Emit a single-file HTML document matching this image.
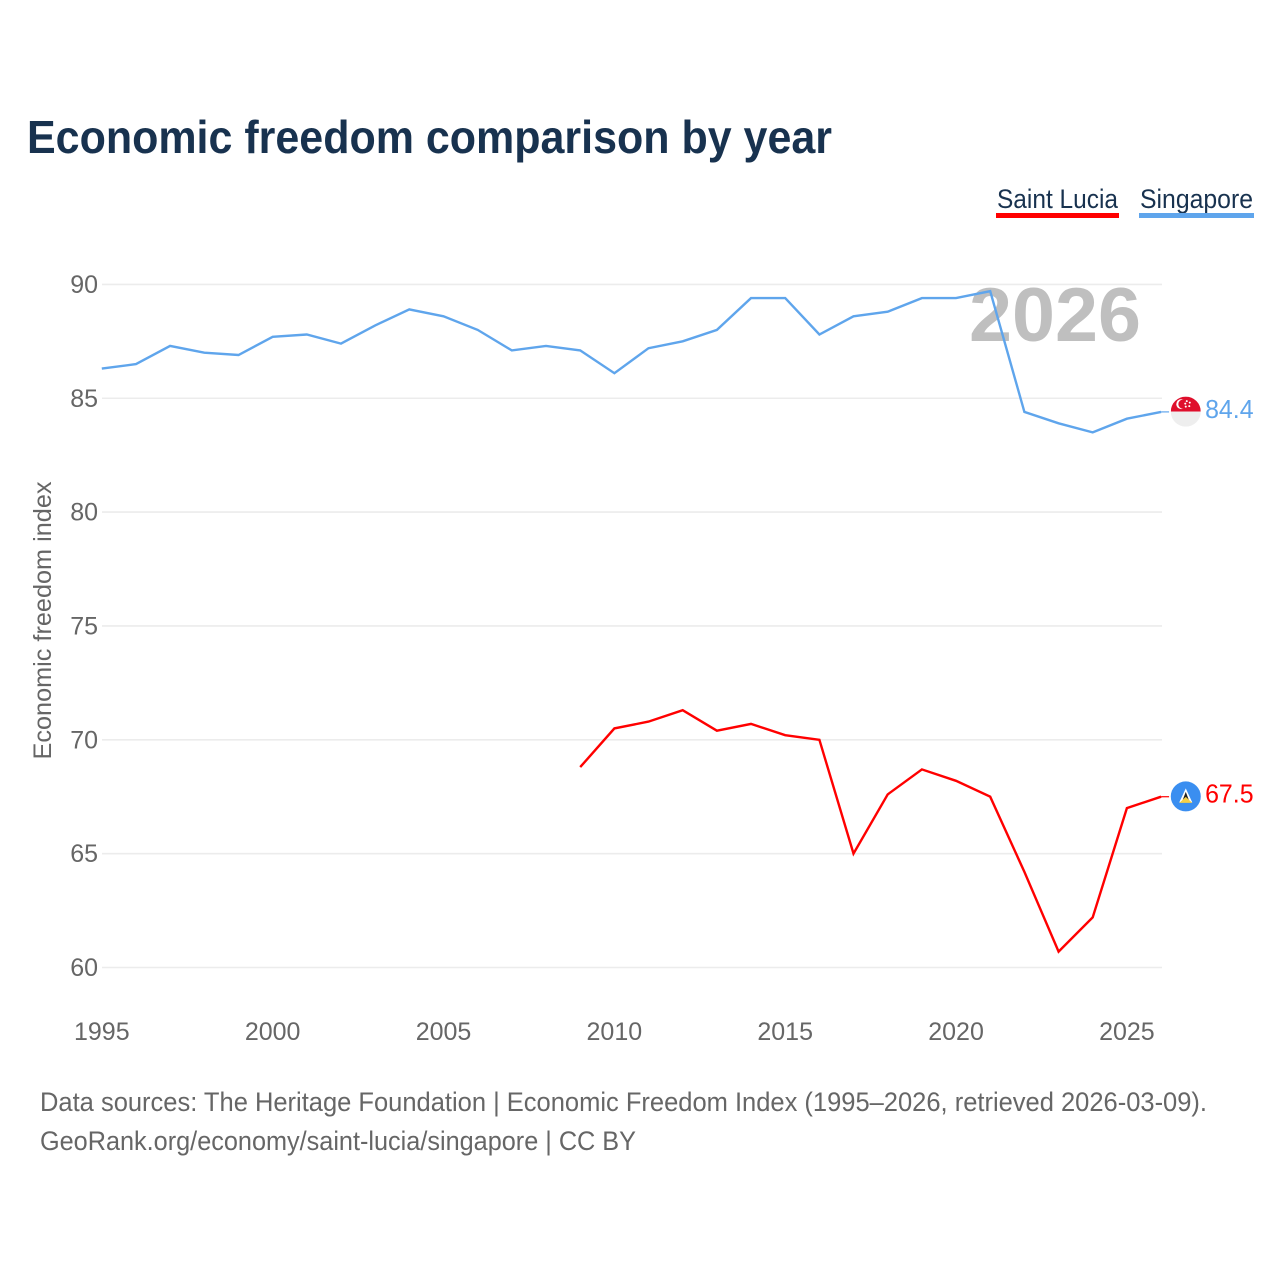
<!DOCTYPE html>
<html lang="en">
<head>
<meta charset="utf-8">
<title>Economic freedom comparison by year</title>
<style>
html,body{margin:0;padding:0;background:#fff;width:1280px;height:1280px;overflow:hidden}
svg{display:block}
text{font-family:"Liberation Sans",sans-serif}
</style>
</head>
<body>
<svg id="chart" xmlns="http://www.w3.org/2000/svg" width="1280" height="1280" viewBox="0 0 1280 1280">
  <text x="27" y="153" font-size="46" font-weight="700" fill="#18324f" textLength="805" lengthAdjust="spacingAndGlyphs">Economic freedom comparison by year</text>

  <g>
    <text x="997" y="208" font-size="27" fill="#18324f" textLength="121" lengthAdjust="spacingAndGlyphs">Saint Lucia</text>
    <rect x="996" y="213" width="123" height="5" fill="#ff0000"></rect>
  </g>
  <g>
    <text x="1140" y="208" font-size="27" fill="#18324f" textLength="113" lengthAdjust="spacingAndGlyphs">Singapore</text>
    <rect x="1139" y="213" width="115" height="5" fill="#5fa5ec"></rect>
  </g>

  <g id="grid"></g>
  <text x="969" y="341" font-size="76" font-weight="700" fill="#bfbfbf" textLength="172" lengthAdjust="spacingAndGlyphs">2026</text>
  <g id="yticks"></g>
  <g id="xticks"></g>
  <text transform="translate(51,620.5) rotate(-90)" text-anchor="middle" font-size="25" fill="#666666" textLength="278" lengthAdjust="spacingAndGlyphs">Economic freedom index</text>
  <g id="series"></g>

  <g id="flag-singapore">
    <clipPath id="clip-sg"><circle cx="0" cy="0" r="15"></circle></clipPath>
    <g clip-path="url(#clip-sg)">
      <rect x="-15" y="-15" width="30" height="15" fill="#df0f2c"></rect>
      <rect x="-15" y="0" width="30" height="15" fill="#eeeeee"></rect>
    </g>
    <circle cx="-4.5" cy="-7.5" r="5" fill="#ffffff"></circle>
    <circle cx="-2.8" cy="-7.5" r="4.6" fill="#df0f2c"></circle>
    <circle cx="1" cy="-10.5" r="1" fill="#fff"></circle>
    <circle cx="4" cy="-9" r="1" fill="#fff"></circle>
    <circle cx="3.5" cy="-5.5" r="1" fill="#fff"></circle>
    <circle cx="0" cy="-5" r="1" fill="#fff"></circle>
    <circle cx="-0.5" cy="-8" r="1" fill="#fff"></circle>
  </g>
  <g id="flag-saint-lucia">
    <circle cx="0" cy="0" r="15" fill="#3a8ef0"></circle>
    <polygon points="0,-8 6.5,6 -6.5,6" fill="#ffffff"></polygon>
    <polygon points="0,-4.5 4,6 -4,6" fill="#222222"></polygon>
    <polygon points="0,0.5 6.5,6.5 -6.5,6.5" fill="#f5cf47"></polygon>
  </g>

  <text x="40" y="1111" font-size="26.5" fill="#666666" textLength="1167" lengthAdjust="spacingAndGlyphs">Data sources: The Heritage Foundation | Economic Freedom Index (1995–2026, retrieved 2026-03-09).</text>
  <text x="40" y="1150" font-size="26.5" fill="#666666" textLength="596" lengthAdjust="spacingAndGlyphs">GeoRank.org/economy/saint-lucia/singapore | CC BY</text>
</svg>
<script>
const yTickValues = [60, 65, 70, 75, 80, 85, 90];
const xTickYears = [1995, 2000, 2005, 2010, 2015, 2020, 2025];
const singaporeYears = [1995,1996,1997,1998,1999,2000,2001,2002,2003,2004,2005,2006,2007,2008,2009,2010,2011,2012,2013,2014,2015,2016,2017,2018,2019,2020,2021,2022,2023,2024,2025,2026];
const singaporeValues = [86.3,86.5,87.3,87.0,86.9,87.7,87.8,87.4,88.2,88.9,88.6,88.0,87.1,87.3,87.1,86.1,87.2,87.5,88.0,89.4,89.4,87.8,88.6,88.8,89.4,89.4,89.7,84.4,83.9,83.5,84.1,84.4];
const saintLuciaYears = [2009,2010,2011,2012,2013,2014,2015,2016,2017,2018,2019,2020,2021,2022,2023,2024,2025,2026];
const saintLuciaValues = [68.8,70.5,70.8,71.3,70.4,70.7,70.2,70.0,65.0,67.6,68.7,68.2,67.5,64.2,60.7,62.2,67.0,67.5];

const NS = 'http://www.w3.org/2000/svg';
const xScale = function (year) { return 101.8 + (year - 1995) * 34.17; };
const yScale = function (value) { return 967.5 + (60 - value) * 22.77; };

function svgEl(tag, attrs, parent) {
  const el = document.createElementNS(NS, tag);
  Object.keys(attrs).forEach(function (k) { el.setAttribute(k, attrs[k]); });
  parent.appendChild(el);
  return el;
}

const grid = document.getElementById('grid');
const yticks = document.getElementById('yticks');
const xticks = document.getElementById('xticks');
const seriesGroup = document.getElementById('series');

yTickValues.forEach(function (v) {
  const line = svgEl('line', {x1: 102, x2: 1162, y1: yScale(v), y2: yScale(v), stroke: '#ececec', 'stroke-width': 1.6}, grid);
  
  
  const label = svgEl('text', {x: 98, y: yScale(v) + 8.5, 'text-anchor': 'end', 'font-size': 25, fill: '#666666'}, yticks);
  
  
  label.textContent = v;
});

xTickYears.forEach(function (yr) {
  const label = svgEl('text', {x: xScale(yr), y: 1040, 'text-anchor': 'middle', 'font-size': 25, fill: '#666666'}, xticks);
  
  
  label.textContent = yr;
});

function drawSeries(key, years, values, color, flagId) {
  const pts = years.map(function (yr, i) { return xScale(yr).toFixed(1) + ',' + yScale(values[i]).toFixed(1); }).join(' ');
  const line = svgEl('polyline', {points: pts, fill: 'none', stroke: color, 'stroke-width': 2.4, 'stroke-linejoin': 'miter'}, seriesGroup);
  
  
  const lastYear = years[years.length - 1];
  const lastValue = values[values.length - 1];
  const endX = xScale(lastYear);
  const endY = yScale(lastValue);
  const leader = svgEl('line', {x1: endX, x2: endX + 8, y1: endY, y2: endY, stroke: color, 'stroke-width': 1.2}, seriesGroup);
  
  
  document.getElementById(flagId).setAttribute('transform', 'translate(' + (endX + 24.7) + ',' + (endY - 0.3) + ')');
  const label = svgEl('text', {x: endX + 44, y: endY + 6, 'font-size': 25.5, fill: color, textLength: 48.5, lengthAdjust: 'spacingAndGlyphs'}, seriesGroup);
  
  
  label.textContent = lastValue.toFixed(1);
}

drawSeries('singapore', singaporeYears, singaporeValues, '#5fa5ec', 'flag-singapore');
drawSeries('saint-lucia', saintLuciaYears, saintLuciaValues, '#ff0000', 'flag-saint-lucia');
</script>
</body>
</html>
